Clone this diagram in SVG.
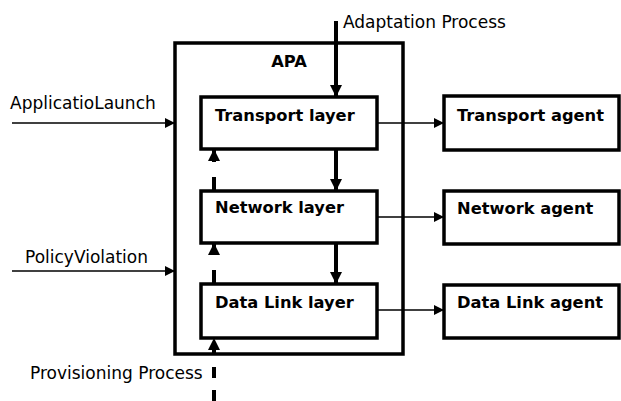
<svg xmlns="http://www.w3.org/2000/svg" width="621" height="401" viewBox="0 0 621 401">
<style>
.box{fill:#fff;stroke:#000;stroke-width:3.5}
.lbl{font-family:"DejaVu Sans",Verdana,sans-serif;font-weight:bold;font-size:16.3px;fill:#000}
.txt{font-family:"DejaVu Sans",Verdana,sans-serif;font-size:17px;fill:#000}
.thin{stroke:#000;stroke-width:1.5;fill:none}
.thick{stroke:#000;stroke-width:4;fill:none}
</style>
<defs>
<marker id="ah" viewBox="0 0 10 10" refX="10" refY="5" markerWidth="10" markerHeight="10" markerUnits="userSpaceOnUse" orient="auto"><path d="M0,0L10,5L0,10z" fill="#000"/></marker>
<marker id="ahb" viewBox="0 0 10 10" refX="10" refY="5" markerWidth="12" markerHeight="12" markerUnits="userSpaceOnUse" orient="auto"><path d="M0,0L10,5L0,10z" fill="#000"/></marker>
</defs>
<rect width="621" height="401" fill="#fff"/>
<g id="apa"><rect class="box" x="175" y="43" width="228" height="311"/><text class="lbl" x="289" y="67" text-anchor="middle">APA</text></g>
<g id="transport-layer"><rect class="box" x="201" y="97" width="176" height="52"/><text class="lbl" x="215" y="121">Transport layer</text></g>
<g id="network-layer"><rect class="box" x="201" y="191" width="176" height="52"/><text class="lbl" x="215" y="213">Network layer</text></g>
<g id="datalink-layer"><rect class="box" x="201" y="284" width="176" height="54"/><text class="lbl" x="215" y="308">Data Link layer</text></g>
<g id="transport-agent"><rect class="box" x="444" y="96" width="175" height="54"/><text class="lbl" x="457" y="121">Transport agent</text></g>
<g id="network-agent"><rect class="box" x="444" y="191" width="175" height="53"/><text class="lbl" x="457" y="214">Network agent</text></g>
<g id="datalink-agent"><rect class="box" x="444" y="285" width="175" height="53"/><text class="lbl" x="457" y="308">Data Link agent</text></g>
<g id="labels">
<text class="txt" x="343" y="28">Adaptation Process</text>
<text class="txt" x="10" y="109">ApplicatioLaunch</text>
<text class="txt" x="25" y="263">PolicyViolation</text>
<text class="txt" x="30" y="379">Provisioning Process</text>
</g>
<g id="connectors">
<line class="thin" x1="12" y1="123" x2="175" y2="123" marker-end="url(#ah)"/>
<line class="thin" x1="12" y1="271" x2="175" y2="271" marker-end="url(#ah)"/>
<line class="thin" x1="377" y1="123" x2="444" y2="123" marker-end="url(#ah)"/>
<line class="thin" x1="377" y1="217" x2="444" y2="217" marker-end="url(#ah)"/>
<line class="thin" x1="377" y1="310" x2="444" y2="310" marker-end="url(#ah)"/>
<line class="thick" x1="336" y1="21" x2="336" y2="97" marker-end="url(#ahb)"/>
<line class="thick" x1="336" y1="149" x2="336" y2="191" marker-end="url(#ahb)"/>
<line class="thick" x1="336" y1="243" x2="336" y2="284" marker-end="url(#ahb)"/>
<line class="thick" x1="214" y1="401" x2="214" y2="338" stroke-dasharray="11,12" marker-end="url(#ahb)"/>
<line class="thick" x1="214" y1="284" x2="214" y2="243" stroke-dasharray="14,15" marker-end="url(#ahb)"/>
<line class="thick" x1="214" y1="191" x2="214" y2="149" stroke-dasharray="14,15" marker-end="url(#ahb)"/>
</g>
</svg>
